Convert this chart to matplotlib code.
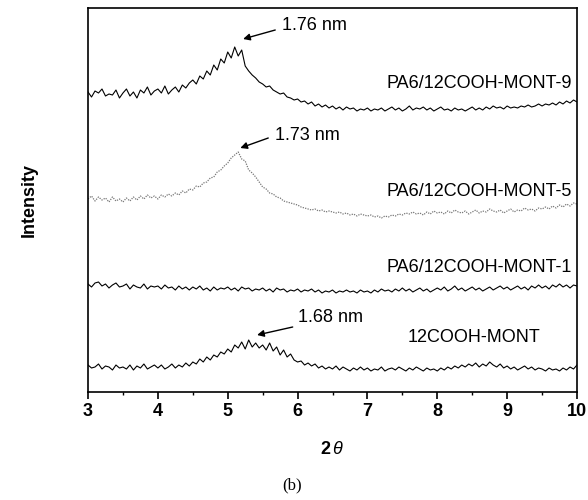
import numpy as np
import matplotlib.pyplot as plt
from matplotlib.ticker import MultipleLocator

plt.rcParams['font.family'] = ['Liberation Sans', 'DejaVu Sans']
plt.rcParams['mathtext.fontset'] = 'custom'
plt.rcParams['mathtext.rm'] = 'Liberation Sans'
plt.rcParams['mathtext.it'] = 'Liberation Sans:italic'
plt.rcParams['mathtext.bf'] = 'Liberation Sans:bold'

# 2theta grid, 3 to 10 deg in 0.05 steps
two_theta = np.round(np.linspace(3, 10, 141), 2)

# intensities (arbitrary units, traces already offset as in the figure)
mont9 = [300, 295, 301, 299, 303, 296, 298, 297, 302, 294,
         299, 303, 296, 300, 294, 302, 299, 305, 297, 301,
         303, 299, 306, 298, 302, 305, 300, 307, 304, 309,
         312, 308, 316, 313, 321, 317, 327, 322, 333, 329,
         340, 334, 345, 336, 342, 326, 321, 317, 314, 310,
         308, 305, 306, 302, 300, 298, 299, 295, 294, 292,
         293, 290, 291, 288, 290, 286, 288, 285, 287, 284,
         286, 283, 285, 282, 285, 283, 284, 281, 283, 282,
         284, 281, 283, 282, 284, 281, 283, 285, 282, 284,
         281, 283, 286, 282, 284, 283, 285, 282, 284, 281,
         283, 285, 282, 283, 281, 284, 282, 283, 281, 283,
         285, 282, 284, 282, 285, 283, 286, 284, 285, 283,
         286, 284, 285, 284, 286, 285, 287, 285, 286, 288,
         286, 288, 287, 289, 287, 290, 288, 291, 289, 292,
         290]

mont5 = [193, 196, 191, 195, 192, 194, 190, 195, 191, 193,
         190, 194, 191, 195, 192, 196, 193, 197, 194, 196,
         193, 197, 195, 198, 196, 199, 197, 201, 199, 203,
         202, 206, 205, 209, 210, 214, 215, 220, 222, 226,
         229, 234, 237, 240, 233, 231, 222, 219, 215, 210,
         205, 203, 199, 198, 195, 194, 191, 190, 189, 188,
         187, 185, 184, 183, 182, 183, 181, 182, 180, 181,
         180, 179, 180, 178, 179, 177, 178, 176, 178, 177,
         176, 177, 175, 176, 174, 176, 175, 177, 176, 178,
         177, 179, 178, 180, 178, 179, 177, 180, 178, 181,
         179, 180, 178, 181, 179, 182, 180, 179, 181, 178,
         180, 182, 179, 181, 180, 183, 181, 180, 182, 179,
         181, 183, 180, 182, 181, 184, 182, 183, 181, 184,
         183, 185, 183, 186, 184, 187, 185, 188, 186, 189,
         188]

mont1 = [108, 105, 109, 110, 106, 108, 104, 107, 109, 105,
         106, 108, 103, 107, 105, 104, 108, 103, 106, 105,
         106, 103, 107, 104, 105, 102, 106, 103, 105, 102,
         105, 103, 106, 102, 104, 101, 105, 102, 104, 103,
         105, 102, 104, 101, 105, 103, 104, 101, 103, 102,
         104, 101, 103, 100, 104, 102, 103, 100, 102, 101,
         103, 100, 102, 101, 103, 100, 102, 99, 101, 100,
         102, 99, 101, 100, 102, 100, 101, 99, 102, 100,
         101, 99, 102, 100, 103, 101, 102, 100, 103, 101,
         104, 101, 103, 100, 102, 104, 101, 103, 100, 102,
         104, 102, 105, 101, 103, 106, 102, 104, 101, 103,
         105, 102, 104, 101, 103, 105, 102, 104, 106, 103,
         105, 102, 104, 106, 103, 105, 102, 106, 104, 107,
         104, 106, 103, 107, 105, 108, 105, 107, 104, 107,
         106]

cooh_mont = [27, 24, 25, 28, 23, 26, 25, 22, 27, 24,
             25, 23, 27, 22, 26, 24, 28, 23, 25, 27,
             24, 27, 23, 25, 28, 24, 27, 25, 29, 26,
             30, 28, 33, 30, 35, 32, 37, 35, 40, 38,
             43, 40, 47, 44, 50, 43, 52, 45, 49, 44,
             47, 42, 49, 41, 45, 37, 42, 35, 38, 32,
             30, 31, 27, 29, 26, 28, 24, 26, 23, 25,
             23, 26, 22, 25, 23, 21, 24, 22, 25, 22,
             24, 21, 23, 22, 25, 21, 23, 24, 22, 25,
             23, 21, 24, 22, 25, 23, 21, 24, 22, 23,
             21, 24, 22, 25, 23, 26, 24, 27, 25, 28,
             26, 29, 25, 28, 26, 30, 27, 25, 28, 24,
             26, 23, 25, 22, 24, 26, 23, 25, 22, 24,
             23, 21, 24, 22, 23, 21, 24, 22, 25, 23,
             27]

fig = plt.figure(figsize=(5.88, 5.0), dpi=100)
ax = fig.add_axes([0.1497, 0.216, 0.8316, 0.768])

ax.plot(two_theta, mont9, color='black', lw=0.8)
ax.plot(two_theta, mont5, color='#777777', lw=0.9, linestyle=(0, (1, 1)))
ax.plot(two_theta, mont1, color='black', lw=0.8)
ax.plot(two_theta, cooh_mont, color='black', lw=0.8)

fs = 13
ax.text(9.93, 309, 'PA6/12COOH-MONT-9', ha='right', va='center', fontsize=fs)
ax.text(9.93, 200, 'PA6/12COOH-MONT-5', ha='right', va='center', fontsize=fs)
ax.text(9.93, 124, 'PA6/12COOH-MONT-1', ha='right', va='center', fontsize=fs)
ax.text(7.58, 55, '12COOH-MONT', ha='left', va='center', fontsize=fs)

arr = dict(arrowstyle='-|>', lw=1, color='black', mutation_scale=10,
           shrinkA=0, shrinkB=0)
ax.annotate('', xy=(5.22, 353), xytext=(5.68, 362), arrowprops=arr)
ax.text(5.78, 367, '1.76 nm', ha='left', va='center', fontsize=fs)
ax.annotate('', xy=(5.18, 244), xytext=(5.58, 254), arrowprops=arr)
ax.text(5.68, 257, '1.73 nm', ha='left', va='center', fontsize=fs)
ax.annotate('', xy=(5.42, 57), xytext=(5.93, 65), arrowprops=arr)
ax.text(6.0, 74, '1.68 nm', ha='left', va='center', fontsize=fs)

ax.set_xlim(3, 10)
ax.set_ylim(0, 384)
ax.xaxis.set_major_locator(MultipleLocator(1))
ax.xaxis.set_minor_locator(MultipleLocator(0.5))
ax.tick_params(axis='x', which='major', direction='out', length=5, width=1.2,
               labelsize=13, pad=3)
ax.tick_params(axis='x', which='minor', direction='out', length=2.5, width=1)
for lab in ax.get_xticklabels():
    lab.set_fontweight('bold')
ax.set_yticks([])
for sp in ax.spines.values():
    sp.set_linewidth(1.2)

ax.set_xlabel(r'$\mathbf{2}\,\mathit{\theta}$', fontsize=13, labelpad=15)
ax.set_ylabel('Intensity', fontsize=13, fontweight='bold', labelpad=36)

fig.text(0.497, 0.03, '(b)', ha='center', va='center', fontsize=12,
         family='Liberation Serif')

fig.savefig('out.png', dpi=100)
